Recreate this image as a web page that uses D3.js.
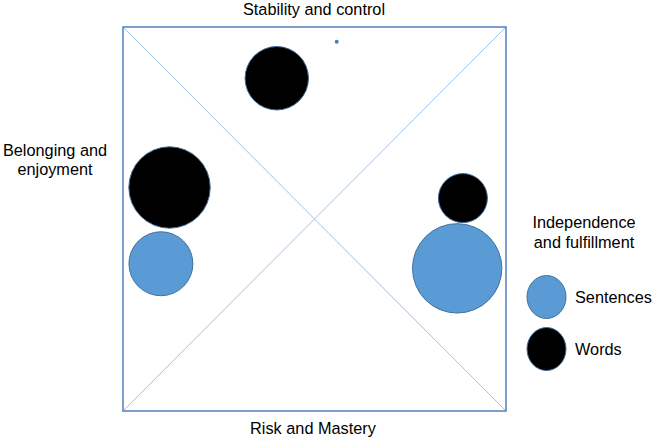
<!DOCTYPE html>
<html><head><meta charset="utf-8">
<script src="https://cdn.jsdelivr.net/npm/d3@7"></script>
<style>body{margin:0;background:#fff}svg{display:block}text{font-family:"Liberation Sans",Arial,sans-serif;fill:#000}</style>
</head><body><svg id="c" width="654" height="437"></svg>
<script>
// data
const series = ["Sentences", "Words"];
const seriesColors = ["#5b9bd5", "#000000"];
const pointSeries = ["Words", "Words", "Words", "Sentences", "Words", "Sentences"];
const pointX = [-0.197, 0.116, -0.757, -0.802, 0.775, 0.745];
const pointY = [0.733, 0.923, 0.164, -0.233, 0.109, -0.257];
const pointSize = [50.3, 0.2, 82.9, 51.2, 30, 100];
const quadrantLabels = ["Stability and control", "Risk and Mastery"];
const leftLabel = ["Belonging and", "enjoyment"];
const rightLabel = ["Independence", "and fulfillment"];

const svg = d3.select("#c");
const x = d3.scaleLinear().domain([-1, 1]).range([123, 506]);
const y = d3.scaleLinear().domain([-1, 1]).range([411, 27]);
const r = d3.scaleSqrt().domain([0, 100]).range([0, 44.7]);
const color = d3.scaleOrdinal().domain(series).range(seriesColors);
const fs = 16.3;

// diagonals
svg.append("line").attr("x1", x(-1)).attr("y1", y(1)).attr("x2", x(1)).attr("y2", y(-1))
  .attr("stroke", "#9dc3e6").attr("stroke-width", 1);
svg.append("line").attr("x1", x(-1)).attr("y1", y(-1)).attr("x2", x(1)).attr("y2", y(1))
  .attr("stroke", "#9dc3e6").attr("stroke-width", 1);
// frame
svg.append("rect").attr("x", x(-1)).attr("y", y(1)).attr("width", x(1) - x(-1)).attr("height", y(-1) - y(1))
  .attr("fill", "none").attr("stroke", "#5b87bd").attr("stroke-width", 1.6);

// bubbles
const pts = pointX.map((v, i) => ({x: v, y: pointY[i], s: pointSize[i], k: pointSeries[i]}));
svg.selectAll("circle.b").data(pts).join("circle").attr("class", "b")
  .attr("cx", d => x(d.x)).attr("cy", d => y(d.y)).attr("r", d => r(d.s))
  .attr("fill", d => d.s < 1 ? "#4a7ebb" : color(d.k))
  .attr("stroke", d => d.k === "Sentences" ? "#41719c" : "#3a6a9a")
  .attr("stroke-width", d => d.s < 1 ? 0 : 1);

// axis labels
svg.append("text").attr("x", 314).attr("y", 15).attr("text-anchor", "middle").attr("font-size", fs).text(quadrantLabels[0]);
svg.append("text").attr("x", 313).attr("y", 434).attr("text-anchor", "middle").attr("font-size", fs).text(quadrantLabels[1]);
leftLabel.forEach((t, i) => svg.append("text").attr("x", 55).attr("y", 156 + i * 19).attr("text-anchor", "middle").attr("font-size", fs).text(t));
rightLabel.forEach((t, i) => svg.append("text").attr("x", 584).attr("y", 228 + i * 20).attr("text-anchor", "middle").attr("font-size", fs).text(t));

// legend
const lg = svg.append("g");
series.forEach((s, i) => {
  const cy = 297 + i * 52;
  lg.append("ellipse").attr("cx", 546.5).attr("cy", cy).attr("rx", 19.5).attr("ry", 21.5)
    .attr("fill", color(s)).attr("stroke", s === "Sentences" ? "#41719c" : "#3a6a9a").attr("stroke-width", 1);
  lg.append("text").attr("x", 575).attr("y", cy + 6).attr("font-size", fs).text(s);
});
</script></body></html>
